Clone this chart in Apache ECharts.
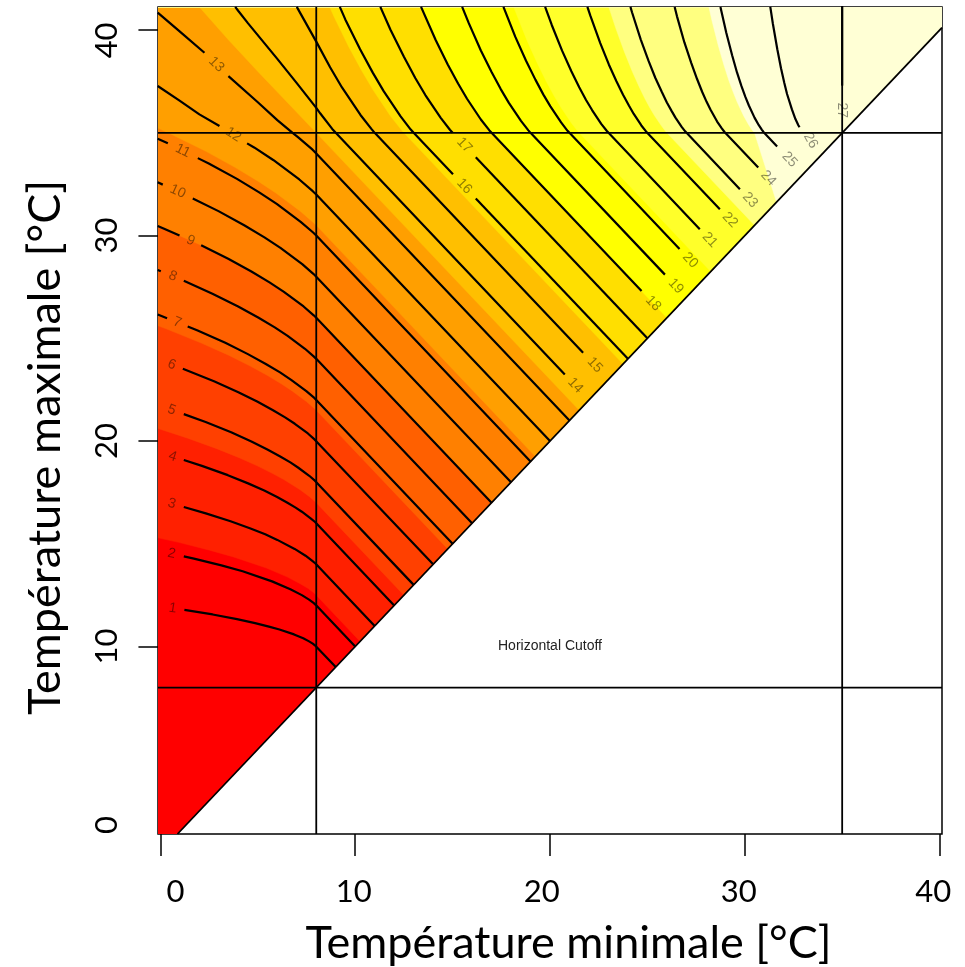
<!DOCTYPE html>
<html><head><meta charset="utf-8">
<script src="https://cdn.jsdelivr.net/npm/echarts@6/dist/echarts.min.js"></script>
<style>html,body{margin:0;padding:0;background:#fff}#c{width:965px;height:967px}</style>
</head><body><div id="c"></div>
<script>
// ---------------- data ----------------
const xTicks = [0, 10, 20, 30, 40];
const yTicks = [0, 10, 20, 30, 40];
const xRange = [-0.125, 40.125];
const yRange = [0.875, 41.125];
const thresholdsX = [8, 35];
const thresholdsY = [8, 35];
const methodLabel = 'Horizontal Cutoff';
const methodLabelAt = [20, 10];

const bandColors = ['#FF0000','#FF2000','#FF4000','#FF6000','#FF8000','#FF9F00',
                    '#FFBF00','#FFDF00','#FFFF00','#FFFF2A','#FFFF80','#FFFFD5'];
const bandLevels = [2.25, 4.5, 6.75, 9, 11.25, 13.5, 15.75, 18, 20.25, 22.5, 24.75];

const dataDomain = [[-0.125,0.875],[0.875,0.875],[40.125,40.125],[40.125,41.125],[-0.125,41.125]];

const bandBoundaries = [
  [[-0.125,15.29],[0.93,15.07],[2.52,14.69],[3.75,14.36],[5.44,13.82],[6.50,13.39],[7.17,13.06],[7.59,12.82],[7.84,12.64],[7.97,12.53],[8,12.5],[10.25,10.25]],
  [[-0.125,20.61],[1.40,20.14],[2.89,19.63],[4.07,19.18],[5.00,18.78],[5.74,18.43],[6.33,18.13],[7.17,17.63],[7.67,17.28],[7.93,17.06],[8,17],[12.5,12.5]],
  [[-0.125,25.61],[0.33,25.45],[2.10,24.77],[3.50,24.18],[4.61,23.65],[5.50,23.19],[6.20,22.79],[6.76,22.44],[7.51,21.91],[7.90,21.59],[8,21.5],[14.75,14.75]],
  [[-0.125,30.47],[0.13,30.36],[2.00,29.57],[3.48,28.87],[4.67,28.25],[5.60,27.72],[6.34,27.26],[7.35,26.55],[7.87,26.12],[8,26],[17,17]],
  [[-0.125,35.23],[0.50,34.96],[2.36,34.09],[3.83,33.32],[5.01,32.65],[5.93,32.07],[7.18,31.19],[7.83,30.65],[8,30.5],[19.25,19.25]],
  [[2.00,41.125],[3.50,39.52],[5.00,37.99],[7.00,36.00],[8,35],[21.5,21.5]],
  [[8.69,41.125],[8.92,40.64],[9.68,39.17],[10.35,38.00],[10.93,37.07],[11.81,35.82],[12.35,35.17],[12.5,35],[23.75,23.75]],
  [[13.38,41.125],[14.13,39.52],[14.75,38.33],[15.28,37.40],[15.74,36.66],[16.45,35.65],[16.88,35.13],[17,35],[26,26]],
  [[18.14,41.125],[18.23,40.90],[18.82,39.50],[19.35,38.39],[19.81,37.50],[20.21,36.80],[20.56,36.24],[21.09,35.49],[21.41,35.10],[21.5,35],[28.25,28.25]],
  [[23.02,41.125],[23.37,40.11],[23.82,38.94],[24.22,38.00],[24.57,37.26],[24.87,36.67],[25.14,36.20],[25.37,35.83],[25.73,35.33],[25.94,35.07],[26,35],[30.5,30.5]],
  [[28.16,41.125],[28.31,40.48],[28.64,39.25],[28.93,38.30],[29.18,37.56],[29.41,36.97],[29.61,36.50],[29.94,35.83],[30.19,35.41],[30.36,35.16],[30.47,35.03],[30.5,35],[31.63,31.63]]
];

const contourLevels = [1,2,3,4,5,6,7,8,9,10,11,12,13,14,15,16,17,18,19,20,21,22,23,24,25,26,27];

const contourPaths = [
  [[[1.23,11.78],[2.68,11.56],[3.93,11.33],[4.86,11.14],[5.57,10.97],[6.11,10.83],[6.86,10.59],[7.33,10.40],[7.63,10.25],[7.82,10.14],[7.93,10.06],[7.99,10.01],[8,10],[9,9]]],
  [[[1.20,14.39],[1.72,14.28],[3.13,13.95],[4.22,13.66],[5.73,13.17],[6.67,12.79],[7.26,12.50],[7.63,12.28],[7.86,12.12],[7.97,12.03],[8,12],[10,10]]],
  [[[1.20,16.79],[2.33,16.48],[3.60,16.10],[4.59,15.76],[5.38,15.46],[6.00,15.19],[6.89,14.75],[7.45,14.42],[7.78,14.18],[7.96,14.04],[8,14],[11,11]]],
  [[[1.20,19.08],[2.13,18.79],[3.46,18.34],[4.50,17.94],[5.33,17.59],[5.99,17.28],[6.52,17.00],[6.94,16.76],[7.26,16.56],[7.71,16.24],[7.94,16.06],[8,16],[12,12]]],
  [[[1.20,21.31],[2.32,20.93],[3.63,20.43],[4.67,19.98],[5.49,19.59],[6.15,19.25],[6.67,18.96],[7.08,18.70],[7.64,18.31],[7.93,18.07],[8,18],[13,13]]],
  [[[1.15,23.52],[2.75,22.91],[4.00,22.38],[4.99,21.91],[5.78,21.50],[6.40,21.15],[6.90,20.84],[7.57,20.37],[7.91,20.08],[8,20],[14,14]]],
  [[[-0.14,26.16],[0.34,25.98]],[[1.40,25.58],[1.88,25.39],[3.33,24.78],[4.49,24.23],[5.41,23.75],[6.14,23.34],[6.71,22.98],[7.49,22.43],[7.90,22.10],[8,22],[15,15]]],
  [[[-0.14,28.32],[0.02,28.26]],[[1.20,27.80],[2.67,27.17],[3.99,26.55],[5.04,26.00],[5.87,25.53],[6.53,25.12],[7.42,24.49],[7.88,24.11],[8,24],[16,16]]],
  [[[-0.14,30.47],[0.13,30.36],[0.98,30.00]],[[2.09,29.53],[3.48,28.87],[4.67,28.25],[5.60,27.72],[6.34,27.26],[7.35,26.55],[7.87,26.12],[8,26],[17,17]]],
  [[[-0.14,32.59],[0.12,32.48]],[[1.66,31.81],[2.98,31.19],[4.30,30.50],[5.34,29.91],[6.16,29.40],[7.28,28.61],[7.85,28.14],[8,28],[18,18]]],
  [[[-0.14,34.71],[0.38,34.49]],[[1.92,33.77],[2.48,33.51],[3.93,32.76],[5.07,32.10],[5.97,31.54],[7.20,30.67],[7.84,30.15],[8,30],[19,19]]],
  [[[-0.14,37.28],[1.00,36.56],[2.00,35.90],[3.03,35.33]],[[4.45,34.49],[4.81,34.29],[5.79,33.68],[7.13,32.73],[7.82,32.16],[8,32],[20,20]]],
  [[[-0.14,40.85],[1.00,39.93],[2.26,38.90]],[[3.49,37.76],[5.00,36.49],[6.00,35.62],[6.77,35.01],[7.06,34.79],[7.81,34.18],[8,34],[21,21]]],
  [[[3.84,41.13],[4.00,40.93],[4.50,40.33],[6.00,38.60],[7.00,37.42],[7.99,36.23],[8.21,35.94],[8.82,35.19],[9,35],[20.76,23.24]]],
  [[[7.00,41.13],[8.00,39.44],[8.71,38.19],[9.32,37.21],[10.27,35.87],[10.84,35.18],[11,35],[21.70,24.30]]],
  [[[9.21,41.13],[9.49,40.52],[10.25,39.07],[10.90,37.93],[11.46,37.03],[12.33,35.80],[12.85,35.16],[13,35],[15.02,32.98]],[[16.19,31.81],[24,24]]],
  [[[11.29,41.13],[11.81,40.02],[12.50,38.70],[13.09,37.66],[13.60,36.84],[14.39,35.73],[14.86,35.15],[15,35]],[[16.19,33.81],[25,25]]],
  [[[13.38,41.13],[14.13,39.52],[14.75,38.33],[15.28,37.40],[15.74,36.66],[16.45,35.65],[16.88,35.13],[17,35],[24.70,27.30]]],
  [[[15.49,41.13],[15.83,40.34],[16.45,39.01],[17.00,37.96],[17.47,37.13],[17.88,36.47],[18.51,35.58],[18.89,35.12],[19,35],[25.90,28.10]]],
  [[[17.61,41.13],[18.22,39.67],[18.77,38.51],[19.25,37.59],[19.66,36.86],[20.02,36.29],[20.57,35.51],[20.90,35.10],[21,35],[26.65,29.35]]],
  [[[19.75,41.13],[20.09,40.25],[20.62,39.00],[21.09,38.01],[21.50,37.22],[21.85,36.60],[22.16,36.11],[22.63,35.44],[22.92,35.09],[23,35],[27.69,30.31]]],
  [[[21.92,41.13],[22.08,40.68],[22.58,39.37],[23.02,38.33],[23.41,37.51],[23.75,36.85],[24.05,36.33],[24.30,35.92],[24.69,35.36],[24.93,35.07],[25,35],[28.72,31.28]]],
  [[[24.13,41.13],[24.21,40.87],[24.66,39.54],[25.06,38.50],[25.41,37.67],[25.73,37.01],[26.00,36.48],[26.24,36.07],[26.44,35.74],[26.76,35.29],[26.95,35.06],[27,35],[29.75,32.25]]],
  [[[26.40,41.13],[26.52,40.67],[26.90,39.40],[27.25,38.41],[27.55,37.62],[27.81,37.00],[28.04,36.51],[28.25,36.11],[28.58,35.55],[28.82,35.22],[28.96,35.04],[29,35],[30.69,33.31]]],
  [[[28.75,41.13],[29.05,39.87],[29.35,38.78],[29.60,37.94],[29.83,37.27],[30.03,36.75],[30.21,36.33],[30.50,35.74],[30.72,35.37],[30.88,35.15],[30.97,35.03],[31,35],[31.66,34.34]]],
  [[[31.31,41.13],[31.44,40.32],[31.67,39.07],[31.86,38.14],[32.03,37.43],[32.17,36.89],[32.42,36.14],[32.60,35.67],[32.75,35.37],[32.81,35.27]]],
  [[[35,41.2],[35,37.3]]]
];

const contourLabelAt = [
  [0.63,11.86],[0.58,14.52],[0.58,16.95],[0.63,19.25],[0.58,21.52],[0.58,23.72],[0.87,25.78],[0.63,28.02],
  [1.55,29.76],[0.89,32.15],[1.15,34.13],[3.74,34.91],[2.87,38.33],[21.30,22.70],[22.30,23.70],[15.60,32.40],
  [15.60,34.40],[25.30,26.70],[26.46,27.54],[27.20,28.80],[28.21,29.79],[29.24,30.76],[30.27,31.73],[31.21,32.79],
  [32.30,33.70],[33.38,34.62],[35,36.10]
];

// ---------------- layout helpers (not data) ----------------
const xLabelNudge = [0.77, -0.08, -0.42, -0.31, -0.33];
const yLabelNudge = [1.31, 0, 0, 0, -0.5];
const xLabelPos = xTicks.map((t,i) => t + xLabelNudge[i]);
const yLabelPos = yTicks.map((t,i) => t + yLabelNudge[i]);
const lookup = (pos, ticks) => v => { const i = pos.findIndex(p => Math.abs(p - v) < 1e-6); return i >= 0 ? String(ticks[i]) : ''; };

const chart = echarts.init(document.getElementById('c'), null, {renderer: 'canvas'});

const series = [];

// filled bands
const closeCorners = [[xRange[1], xRange[1]], [xRange[1], yRange[1]], [xRange[0], yRange[1]]];
series.push({
  type: 'custom', silent: true, clip: true, z: 1,
  data: bandColors.map((c, i) => [20, 20, i]),
  renderItem: (params, api) => {
    const i = params.dataIndex;
    const poly = i === 0 ? dataDomain : bandBoundaries[i - 1].concat(closeCorners);
    return {type: 'polygon', shape: {points: poly.map(p => api.coord(p))},
            style: {fill: bandColors[i], stroke: bandColors[i], lineWidth: 0.5}};
  }
});

// contour lines
contourPaths.forEach((segs, k) => {
  segs.forEach(seg => {
    series.push({type: 'line', data: seg, symbol: 'none', silent: true, z: 3,
      lineStyle: {color: '#000', width: 2.2}, clip: true});
  });
});

// threshold lines & diagonal
thresholdsX.forEach(v => series.push({type: 'line', data: [[v, yRange[0]], [v, yRange[1]]], symbol: 'none', silent: true, z: 4,
  lineStyle: {color: '#000', width: 1.8}}));
thresholdsY.forEach(v => series.push({type: 'line', data: [[xRange[0], v], [xRange[1], v]], symbol: 'none', silent: true, z: 4,
  lineStyle: {color: '#000', width: 1.8}}));
series.push({type: 'line', data: [[yRange[0], yRange[0]], [xRange[1], xRange[1]]], symbol: 'none', silent: true, z: 4,
  lineStyle: {color: '#000', width: 1.8}});

// contour labels
series.push({
  type: 'custom', silent: true, z: 5,
  data: contourLabelAt.map((p, i) => [p[0], p[1], i]),
  renderItem: (params, api) => {
    const i = params.dataIndex;
    const p = contourLabelAt[i];
    const c = api.coord(p);
    const pts = [].concat(...contourPaths[i]).map(q => api.coord(q));
    pts.sort((a, b) => Math.hypot(a[0]-c[0], a[1]-c[1]) - Math.hypot(b[0]-c[0], b[1]-c[1]));
    const a = pts[0], b = pts[1];
    let dx = b[0] - a[0], dy = b[1] - a[1];
    let ang = Math.atan2(-dy, dx) * 180 / Math.PI;
    if (ang >= 90) ang -= 180;
    if (ang < -90) ang += 180;
    return {type: 'text', x: c[0], y: c[1], rotation: ang * Math.PI / 180,
      style: {text: String(contourLevels[i]), fill: 'rgba(0,0,0,0.45)', font: '14px "Liberation Sans", Arial, sans-serif',
              align: 'center', verticalAlign: 'middle', textAlign: 'center', textVerticalAlign: 'middle'}};
  }
});

// method annotation
series.push({
  type: 'custom', silent: true, z: 5,
  data: [methodLabelAt],
  renderItem: (params, api) => {
    const c = api.coord(methodLabelAt);
    return {type: 'text', x: c[0], y: c[1],
      style: {text: methodLabel, fill: '#222', font: '14px "Liberation Sans", Arial, sans-serif',
              align: 'center', verticalAlign: 'middle', textAlign: 'center', textVerticalAlign: 'middle'}};
  }
});

chart.setOption({
  animation: false,
  backgroundColor: '#fff',
  grid: {left: 158, right: 23, top: 7, bottom: 133, show: true, borderColor: '#000', borderWidth: 1.5,
         backgroundColor: 'transparent', containLabel: false, outerBoundsMode: 'none'},
  xAxis: {
    type: 'value', min: xRange[0], max: xRange[1],
    axisLine: {show: false},
    splitLine: {show: false},
    axisTick: {show: true, customValues: xTicks, length: 22, lineStyle: {color: '#000', width: 1.5}},
    axisLabel: {customValues: xLabelPos, formatter: lookup(xLabelPos, xTicks), fontFamily: 'Lato', fontSize: 31, color: '#000', margin: 42},
    name: 'Température minimale [°C]', nameLocation: 'middle', nameGap: 87,
    nameTextStyle: {fontFamily: 'Lato', fontSize: 45, color: '#000', padding: [0, 0, 0, 37]}
  },
  yAxis: {
    type: 'value', min: yRange[0], max: yRange[1],
    axisLine: {show: false},
    splitLine: {show: false},
    axisTick: {show: true, customValues: yTicks.filter(v => v >= yRange[0]), length: 22, lineStyle: {color: '#000', width: 1.5}},
    axisLabel: {customValues: yLabelPos, formatter: lookup(yLabelPos, yTicks), rotate: 90, fontFamily: 'Lato', fontSize: 31, color: '#000', margin: 36},
    name: 'Température maximale [°C]', nameLocation: 'middle', nameGap: 90,
    nameTextStyle: {fontFamily: 'Lato', fontSize: 45, color: '#000', padding: [0, 54, 0, 0]}
  },
  series: series
});
</script>
</body></html>
